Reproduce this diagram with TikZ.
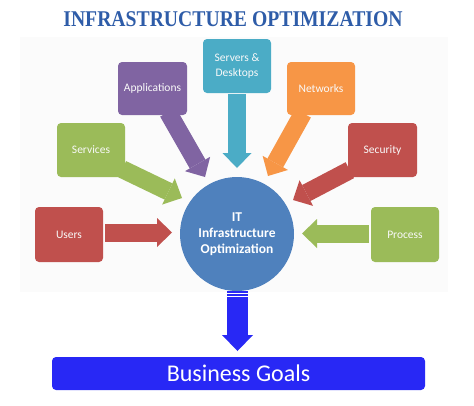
\documentclass[tikz,border=0pt]{standalone}
\usepackage{fontspec}
\setmainfont{Carlito}
\newfontfamily\titlefont{Liberation Serif}
\usepackage{graphicx}
\usetikzlibrary{arrows.meta}
\definecolor{cTeal}{RGB}{75,172,198}
\definecolor{cPurple}{RGB}{128,100,162}
\definecolor{cOrange}{RGB}{247,150,70}
\definecolor{cGreen}{RGB}{155,187,89}
\definecolor{cRed}{RGB}{192,80,77}
\definecolor{cCircle}{RGB}{79,129,189}
\definecolor{cGoal}{RGB}{40,40,245}
\definecolor{cTitle}{RGB}{46,92,168}
\definecolor{cPanel}{RGB}{251,251,251}
\pgfdeclarelayer{panel}
\pgfdeclarelayer{arrows}
\pgfsetlayers{panel,arrows,main}
\tikzset{
  box/.style={rectangle, rounded corners=4pt, minimum width=68pt, minimum height=54pt,
    inner sep=0pt, text=white!95!gray, align=center, font=\fontsize{11.5}{15}\selectfont},
  fat/.style={line width=18pt, -{Triangle[length=15pt 0 0, width=29pt 0 0, line width=0pt 0 0]}},
  bigfat/.style={line width=21pt, -{Triangle[length=16pt 0 0, width=31pt 0 0, line width=0pt 0 0]}},
  hub/.style={circle, fill=cCircle, minimum size=114pt, inner sep=0pt, text=white, align=center,
    font=\bfseries\fontsize{13.5}{16}\selectfont},
}
\begin{document}
\begin{tikzpicture}[x=1pt,y=-1pt]
\useasboundingbox (0,0) rectangle (474,405);
\begin{pgfonlayer}{panel}
  \fill[cPanel] (20,37) rectangle (448,292);
\end{pgfonlayer}

\node[text=cTitle, font=\titlefont\bfseries\fontsize{22.5}{24}\selectfont, inner sep=0pt] (title) at (233,19.5)
  {\scalebox{0.875}[1]{INFRASTRUCTURE OPTIMIZATION}};

\node[box, fill=cTeal]   (servers)  at (237,66)    {Servers \&\\Desktops};
\node[box, fill=cPurple, minimum width=69pt, minimum height=53pt] (apps) at (152.5,88.5) {Applications};
\node[box, fill=cOrange, minimum height=53pt] (networks) at (321,88.5) {Networks};
\node[box, fill=cGreen]  (services) at (91,150)    {Services};
\node[box, fill=cRed, minimum width=69pt] (security) at (382.5,150) {Security};
\node[box, fill=cRed, minimum height=55pt]   (users)   at (69,234.5)  {Users};
\node[box, fill=cGreen, minimum height=55pt] (process) at (405,234.5) {Process};

\node[hub] (hub) at (237,234) {IT\\Infrastructure\\Optimization};

\node[rectangle, rounded corners=4pt, fill=cGoal, minimum width=373pt, minimum height=33pt,
  inner sep=0pt, text=white, font=\fontsize{24}{26}\selectfont] (goals) at (238.5,373.5) {Business Goals};

\coordinate (eUsers)    at (172,232.5);
\coordinate (eProcess)  at (302,233.5);
\coordinate (eServices) at (182,198);
\coordinate (eApps)     at (205,177);
\coordinate (eServers)  at (237,168);
\coordinate (eNetworks) at (268,176);
\coordinate (eSecurity) at (293,200);
\coordinate (eGoals)    at (237.5,351);

\begin{pgfonlayer}{arrows}
  \draw[fat, cRed]    ([shift={(2,-2)}]users.east) -- (eUsers);
  \draw[fat, cGreen]  ([shift={(-2,-1)}]process.west) -- (eProcess);
  \draw[fat, cGreen]  ([shift={(-3,-8)}]services.south east) -- (eServices);
  \draw[fat, cPurple] ([shift={(15.5,-3)}]apps.south) -- (eApps);
  \draw[fat, cTeal]   ([shift={(0,1)}]servers.south) -- (eServers);
  \draw[fat, cOrange] ([shift={(-18,-2)}]networks.south) -- (eNetworks);
  \draw[fat, cRed]    ([shift={(2,-7)}]security.south west) -- (eSecurity);
  \draw[bigfat, cGoal] ([shift={(0.5,0)}]hub.south) -- (eGoals);
\end{pgfonlayer}
\draw[white, line width=0.8pt] (227,293.5) -- (248,293.5);
\draw[white, line width=0.8pt] (227,296.2) -- (248,296.2);
\end{tikzpicture}
\end{document}
